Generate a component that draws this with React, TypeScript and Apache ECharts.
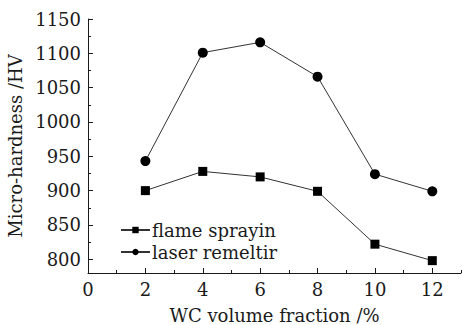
import React, { useEffect, useRef } from "react";
import * as echarts from "echarts";

const xValues = [2, 4, 6, 8, 10, 12];
const flameSpraying = [900, 928, 920, 899, 822, 798];
const laserRemelting = [943, 1101, 1116, 1066, 924, 899];
const xLabelValues = [0, 2, 4, 6, 8, 10, 12];
const xMinorValues = [1, 3, 5, 7, 9, 11, 13];
const yLabelValues = [800, 850, 900, 950, 1000, 1050, 1100, 1150];
const yMinorValues = [825, 875, 925, 975, 1025, 1075, 1125];
const seriesNames = ["flame sprayin", "laser remeltir"];

const FONT = "DejaVu Serif";
const INK = "#1a1a1a";
const FS = 18;

export default function App() {
  const ref = useRef<HTMLDivElement>(null);
  useEffect(() => {
    if (!ref.current) return;
    const chart = echarts.init(ref.current, undefined, { renderer: "svg" });
    const axisLine = { show: true, lineStyle: { color: INK, width: 1 } };
    chart.setOption({
      animation: false,
      backgroundColor: "#fff",
      textStyle: { fontFamily: FONT, color: INK },
      grid: {
        left: 88,
        right: 1,
        top: 19,
        bottom: 52,
        containLabel: false,
        outerBoundsMode: "none",
      },
      legend: {
        orient: "vertical",
        left: 115,
        top: 216,
        itemWidth: 29,
        itemHeight: 8,
        itemGap: 4,
        textStyle: { fontFamily: FONT, fontSize: FS, color: INK, padding: [0, 0, 0, -3] },
        data: seriesNames,
      },
      xAxis: [
        {
          type: "value",
          min: 0,
          max: 13,
          name: "WC volume fraction /%",
          nameLocation: "middle",
          nameGap: 33,
          nameTextStyle: { fontFamily: FONT, fontSize: FS, color: INK },
          axisLine,
          splitLine: { show: false },
          axisTick: { show: true, inside: true, length: 5, customValues: xLabelValues, lineStyle: { color: INK } },
          axisLabel: {
            show: true,
            customValues: xLabelValues,
            margin: 7,
            fontFamily: FONT,
            fontSize: FS,
            color: INK,
            formatter: (v: number) => String(v),
          },
        },
        {
          type: "value",
          min: 0,
          max: 13,
          position: "bottom",
          axisLine: { show: false },
          splitLine: { show: false },
          axisLabel: { show: false },
          axisTick: { show: true, inside: true, length: 3, customValues: xMinorValues, lineStyle: { color: INK } },
        },
      ],
      yAxis: [
        {
          type: "value",
          min: 780,
          max: 1150,
          name: "Micro-hardness /HV",
          nameLocation: "middle",
          nameGap: 52,
          nameTextStyle: { fontFamily: FONT, fontSize: FS, color: INK },
          axisLine,
          splitLine: { show: false },
          axisTick: { show: true, inside: true, length: 5, customValues: yLabelValues, lineStyle: { color: INK } },
          axisLabel: {
            show: true,
            customValues: yLabelValues,
            margin: 7,
            fontFamily: FONT,
            fontSize: FS,
            color: INK,
            formatter: (v: number) => String(v),
          },
        },
        {
          type: "value",
          min: 780,
          max: 1150,
          position: "left",
          axisLine: { show: false },
          splitLine: { show: false },
          axisLabel: { show: false },
          axisTick: { show: true, inside: true, length: 3, customValues: yMinorValues, lineStyle: { color: INK } },
        },
      ],
      series: [
        {
          name: seriesNames[0],
          type: "line",
          data: xValues.map((x, i) => [x, flameSpraying[i]]),
          symbol: "rect",
          symbolSize: 9,
          lineStyle: { color: "#333", width: 1 },
          itemStyle: { color: "#000" },
        },
        {
          name: seriesNames[1],
          type: "line",
          data: xValues.map((x, i) => [x, laserRemelting[i]]),
          symbol: "circle",
          symbolSize: 10,
          lineStyle: { color: "#333", width: 1 },
          itemStyle: { color: "#000" },
        },
      ],
    });
    return () => chart.dispose();
  }, []);
  return <div ref={ref} style={{ width: 462, height: 325, position: "absolute", left: 0, top: 0 }} />;
}
